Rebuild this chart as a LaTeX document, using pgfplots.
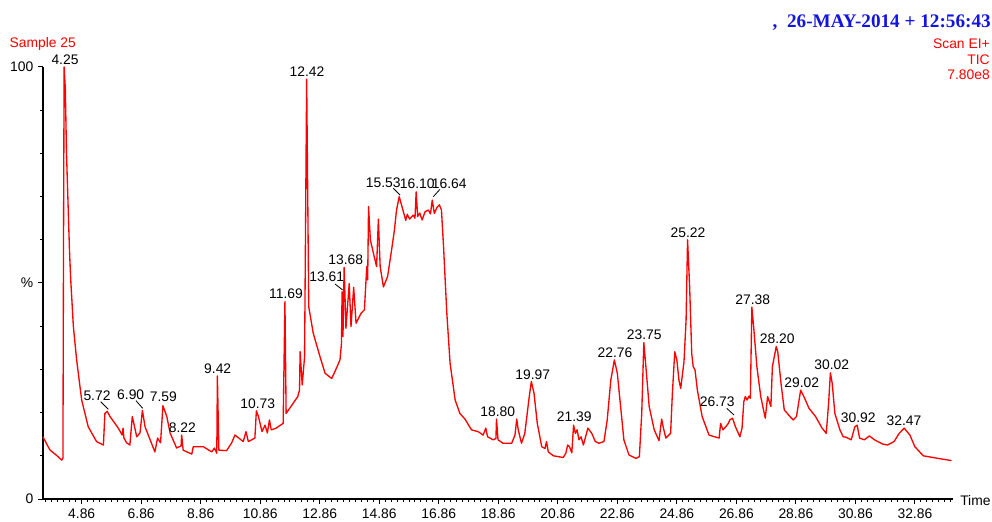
\documentclass[border=0pt]{standalone}
\usepackage{pgfplots}
\pgfplotsset{compat=1.18}
\usepackage{fontspec}
\setmainfont{Liberation Sans}
\newfontfamily\timesfont{Liberation Serif}
\definecolor{chromred}{RGB}{255,0,0}
\definecolor{titleblue}{RGB}{20,20,225}
\newcommand\lbl{\fontsize{10.4}{12}\selectfont}
\pgfplotstableread{
t v
3.56 14.4
3.70 12.5
3.80 11.3
4.00 10.2
4.19 9.0
4.23 9.5
4.25 60.0
4.27 100.0
4.31 95.0
4.35 80.0
4.45 57.5
4.49 51.0
4.58 40.0
4.69 32.2
4.86 22.9
5.08 16.7
5.36 13.3
5.59 12.5
5.64 19.8
5.72 20.3
5.80 19.2
6.09 16.4
6.22 14.8
6.25 16.4
6.28 14.1
6.37 13.0
6.48 12.5
6.56 19.1
6.71 14.4
6.82 15.3
6.90 20.5
6.99 16.7
7.16 13.7
7.32 10.9
7.41 14.1
7.51 13.0
7.59 21.6
7.72 19.1
7.83 15.3
8.05 11.8
8.20 12.3
8.22 14.8
8.27 11.3
8.56 10.4
8.61 12.1
8.95 12.1
9.23 10.9
9.32 11.8
9.40 10.6
9.42 28.5
9.47 11.3
9.73 11.2
9.90 13.0
10.01 14.8
10.29 13.3
10.38 15.6
10.46 13.3
10.68 14.1
10.73 20.4
10.80 19.1
10.92 15.6
11.02 17.1
11.10 15.3
11.17 18.3
11.23 16.0
11.39 16.4
11.63 17.5
11.69 45.7
11.73 19.8
12.12 23.7
12.18 25.2
12.20 34.1
12.27 26.4
12.35 32.9
12.42 97.2
12.49 44.5
12.64 38.4
12.87 32.9
13.04 29.1
13.26 27.9
13.37 29.5
13.54 32.2
13.59 36.0
13.61 48.0
13.64 37.6
13.68 53.6
13.74 39.5
13.85 49.9
13.91 39.9
14.00 49.0
14.08 40.7
14.25 43.0
14.36 43.8
14.44 53.8
14.47 50.7
14.50 67.7
14.56 60.0
14.69 56.1
14.77 53.8
14.83 64.8
14.89 53.8
15.00 49.1
15.14 51.5
15.29 58.4
15.37 62.3
15.44 66.9
15.53 70.0
15.67 66.5
15.75 64.5
15.80 65.9
15.88 64.8
16.00 65.7
16.06 65.0
16.10 71.1
16.15 65.4
16.22 66.2
16.30 64.6
16.40 66.5
16.51 66.9
16.58 66.0
16.64 69.2
16.71 66.1
16.80 67.5
16.88 68.1
16.95 66.9
17.02 58.4
17.13 43.0
17.24 31.4
17.41 22.9
17.57 19.8
17.74 18.5
17.96 16.0
18.18 15.6
18.35 14.8
18.44 16.4
18.50 14.4
18.69 13.7
18.78 14.0
18.80 18.5
18.85 13.7
19.02 12.9
19.31 12.9
19.42 14.8
19.48 18.5
19.53 16.0
19.64 12.9
19.75 15.2
19.90 23.7
19.97 27.2
20.06 24.5
20.17 17.5
20.32 12.1
20.43 11.7
20.48 13.3
20.54 10.9
20.71 10.0
21.04 9.6
21.13 10.6
21.19 12.5
21.25 12.1
21.33 10.7
21.39 17.1
21.45 15.2
21.51 16.0
21.57 13.7
21.64 14.4
21.72 12.5
21.87 16.4
22.00 15.2
22.12 13.3
22.24 12.9
22.41 13.3
22.52 18.3
22.64 27.5
22.76 32.2
22.86 29.1
22.97 21.4
23.08 13.7
23.25 10.2
23.48 9.4
23.60 9.8
23.68 19.8
23.75 36.2
23.82 30.6
23.93 21.4
24.10 16.0
24.26 13.5
24.35 18.5
24.40 16.7
24.49 14.1
24.65 15.2
24.71 24.5
24.79 34.1
24.86 32.2
24.93 27.5
24.99 25.6
25.10 31.8
25.17 41.4
25.22 60.0
25.29 49.1
25.36 33.7
25.41 30.6
25.47 29.9
25.55 25.2
25.71 19.1
25.94 14.8
26.28 14.1
26.33 17.5
26.41 16.0
26.50 16.7
26.59 17.5
26.64 18.3
26.73 18.7
26.83 16.7
26.98 14.4
27.05 16.4
27.11 22.5
27.16 23.7
27.22 22.9
27.28 23.8
27.33 23.3
27.38 44.4
27.44 39.9
27.55 30.6
27.68 23.7
27.83 18.7
27.91 23.7
28.02 21.4
28.07 30.6
28.20 35.3
28.25 34.1
28.36 26.8
28.47 20.6
28.55 20.0
28.66 19.1
28.77 18.3
28.88 19.1
29.02 25.2
29.13 23.7
29.30 21.0
29.52 19.1
29.74 16.4
29.88 15.2
29.96 22.2
30.02 29.2
30.08 26.8
30.17 19.8
30.34 16.0
30.45 14.4
30.55 14.3
30.72 13.7
30.84 16.7
30.92 17.1
31.00 14.1
31.16 13.7
31.33 14.6
31.50 13.7
31.78 12.7
31.94 12.5
32.16 13.3
32.33 15.2
32.50 16.4
32.69 14.8
32.86 12.1
33.14 10.0
33.47 9.6
33.81 9.2
34.09 8.9
}\chrom
\begin{document}
\begin{tikzpicture}
\useasboundingbox (0,0) rectangle (744pt,390.75pt);
\begin{axis}[
  at={(32.25pt,16.5pt)}, anchor=south west,
  scale only axis, width=682.5pt, height=324pt,
  xmin=3.56, xmax=34.14, ymin=0, ymax=100,
  axis x line=bottom, axis y line=left,
  axis line style={line width=0.9pt,-},
  tick align=outside,
  xtick={4.86,6.86,8.86,10.86,12.86,14.86,16.86,18.86,20.86,22.86,24.86,26.86,28.86,30.86,32.86},
  xticklabels={4.86,6.86,8.86,10.86,12.86,14.86,16.86,18.86,20.86,22.86,24.86,26.86,28.86,30.86,32.86},
  minor xtick={3.66,3.86,...,34.1},
  ytick={0,50,100}, yticklabels={0,\%,100},
  minor ytick={10,20,30,40,60,70,80,90},
  major tick length=3.75pt, minor tick length=2.25pt,
  tick style={black, line width=0.75pt},
  ticklabel style={font=\lbl},
  /pgf/number format/assume math mode=true,
  clip=false,
]
\addplot[color=chromred, line width=1pt, line join=round] table[x=t,y=v] {\chrom};
\end{axis}
\begin{scope}[x=0.75pt,y=-0.75pt,yshift=390.75pt]
\node[anchor=base west, inner sep=0, text=chromred, font=\lbl] at (9.3,48) {Sample 25};
\node[anchor=base east, inner sep=0, text=titleblue, font=\timesfont\bfseries\fontsize{14.4}{16}\selectfont] at (991,28) {,\ \ 26-MAY-2014 + 12:56:43};
\node[anchor=base east, inner sep=0, text=chromred, font=\lbl] at (990,48.2) {Scan EI+};
\node[anchor=base east, inner sep=0, text=chromred, font=\lbl] at (990,64.2) {TIC};
\node[anchor=base east, inner sep=0, text=chromred, font=\lbl] at (990,80) {7.80e8};
\node[anchor=base west, inner sep=0, font=\lbl] at (960,505) {Time};
\begin{scope}[every node/.style={inner sep=0, font=\lbl, anchor=center}]
\node at (65,60) {4.25};
\node at (307,72) {12.42};
\node at (97,396) {5.72};
\node at (130.7,394.3) {6.90};
\node at (163.3,396.7) {7.59};
\node at (182.3,427.7) {8.22};
\node at (217.7,368.3) {9.42};
\node at (257.7,404) {10.73};
\node at (286,293.3) {11.69};
\node at (326.7,276.7) {13.61};
\node at (345.7,259.3) {13.68};
\node at (383.3,182.7) {15.53};
\node at (417.3,184) {16.10};
\node at (449.3,184) {16.64};
\node at (497.7,411.7) {18.80};
\node at (532.7,374.3) {19.97};
\node at (574.3,416.7) {21.39};
\node at (615,352.7) {22.76};
\node at (644.3,334.3) {23.75};
\node at (688,232.5) {25.22};
\node at (717.3,401.7) {26.73};
\node at (752.7,300) {27.38};
\node at (777.3,339) {28.20};
\node at (801.7,382.7) {29.02};
\node at (831.7,365) {30.02};
\node at (858.3,417.7) {30.92};
\node at (904,420.7) {32.47};
\end{scope}
\begin{scope}[line width=0.6pt, black]
\draw (100.7,401.7) -- (108.3,409.3);
\draw (136,400.7) -- (142.7,408.3);
\draw (335,284) -- (342.7,290);
\draw (393.3,188.3) -- (400,195);
\draw (440,189.3) -- (433.3,196.7);
\draw (726.7,408.3) -- (734,415);
\end{scope}
\end{scope}
\end{tikzpicture}
\end{document}
